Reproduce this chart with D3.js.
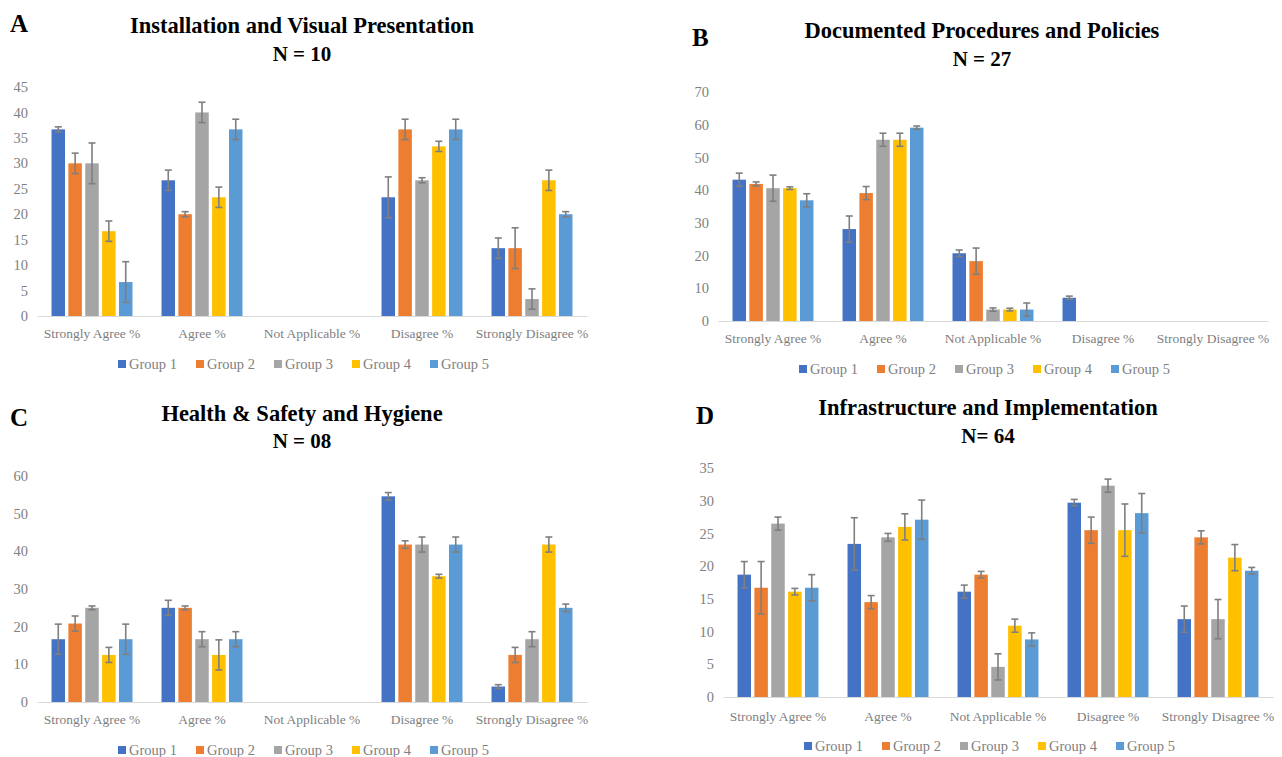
<!DOCTYPE html>
<html>
<head>
<meta charset="utf-8">
<script src="https://cdn.jsdelivr.net/npm/d3@7"></script>
<style>
  html, body { margin: 0; padding: 0; background: #fff; }
  svg { display: block; }
</style>
</head>
<body>
<svg id="chart" width="1282" height="757"></svg>
<script>
// Response categories shared by all four panels
const categories = ["Strongly Agree %", "Agree %", "Not Applicable %", "Disagree %", "Strongly Disagree %"];
const groups = ["Group 1", "Group 2", "Group 3", "Group 4", "Group 5"];
const groupColors = ["#4472C4", "#ED7D31", "#A5A5A5", "#FFC000", "#5B9BD5"];

// Panel A: Installation and Visual Presentation (rows = groups, columns = categories)
const valuesA = [
  [36.67, 26.67, 0, 23.33, 13.33],
  [30, 20, 0, 36.67, 13.33],
  [30, 40, 0, 26.67, 3.33],
  [16.67, 23.33, 0, 33.33, 26.67],
  [6.67, 36.67, 0, 36.67, 20]
];
const errorsA = [
  [0.5, 2, 0, 4, 2],
  [2, 0.5, 0, 2, 4],
  [4, 2, 0, 0.5, 2],
  [2, 2, 0, 1, 2],
  [4, 2, 0, 2, 0.5]
];
const ticksA = [0, 5, 10, 15, 20, 25, 30, 35, 40, 45];

// Panel B: Documented Procedures and Policies
const valuesB = [
  [43.2, 28.1, 20.7, 7.1, 0],
  [41.9, 39.1, 18.3, 0, 0],
  [40.6, 55.4, 3.5, 0, 0],
  [40.6, 55.4, 3.5, 0, 0],
  [36.9, 59.1, 3.5, 0, 0]
];
const errorsB = [
  [2, 4, 1, 0.5, 0],
  [0.6, 2, 4, 0, 0],
  [4, 2, 0.5, 0, 0],
  [0.4, 2, 0.4, 0, 0],
  [2, 0.5, 2, 0, 0]
];
const ticksB = [0, 10, 20, 30, 40, 50, 60, 70];

// Panel C: Health & Safety and Hygiene
const valuesC = [
  [16.67, 25, 0, 54.6, 4.1],
  [20.83, 25, 0, 41.8, 12.5],
  [25, 16.67, 0, 41.8, 16.67],
  [12.5, 12.5, 0, 33.4, 41.8],
  [16.67, 16.67, 0, 41.8, 25]
];
const errorsC = [
  [4, 2, 0, 1, 0.5],
  [2, 0.5, 0, 1, 2],
  [0.5, 2, 0, 2, 2],
  [2, 4, 0, 0.5, 2],
  [4, 2, 0, 2, 1]
];
const ticksC = [0, 10, 20, 30, 40, 50, 60];

// Panel D: Infrastructure and Implementation
const valuesD = [
  [18.7, 23.4, 16.1, 29.7, 11.9],
  [16.7, 14.5, 18.7, 25.5, 24.4],
  [26.5, 24.4, 4.6, 32.3, 11.9],
  [16.1, 26, 10.9, 25.5, 21.3],
  [16.7, 27.1, 8.8, 28.1, 19.3]
];
const errorsD = [
  [2, 4, 1, 0.5, 2],
  [4, 1, 0.5, 2, 1],
  [1, 0.6, 2, 1, 3],
  [0.5, 2, 1, 4, 2],
  [2, 3, 1, 3, 0.5]
];
const ticksD = [0, 5, 10, 15, 20, 25, 30, 35];

const panels = [
  { letter: "A", title: "Installation and Visual Presentation", n: "N = 10",
    values: valuesA, errors: errorsA, ticks: ticksA,
    left: 37, right: 587, top: 87, base: 316,
    letterX: 10, letterY: 32, titleX: 302, titleY: 33, nY: 61, catY: 338, legendY: 364 },
  { letter: "B", title: "Documented Procedures and Policies", n: "N = 27",
    values: valuesB, errors: errorsB, ticks: ticksB,
    left: 718, right: 1268, top: 92, base: 321,
    letterX: 692, letterY: 46, titleX: 982, titleY: 38, nY: 66, catY: 343, legendY: 369 },
  { letter: "C", title: "Health & Safety and Hygiene", n: "N = 08",
    values: valuesC, errors: errorsC, ticks: ticksC,
    left: 37, right: 587, top: 476, base: 702,
    letterX: 10, letterY: 426, titleX: 302, titleY: 421, nY: 448, catY: 724, legendY: 750 },
  { letter: "D", title: "Infrastructure and Implementation", n: "N= 64",
    values: valuesD, errors: errorsD, ticks: ticksD,
    left: 723, right: 1273, top: 468, base: 697,
    letterX: 696, letterY: 424, titleX: 988, titleY: 415, nY: 443, catY: 721, legendY: 746 }
];

const svg = d3.select("#chart");
const serif = "'Liberation Serif', 'DejaVu Serif', serif";

panels.forEach(p => {
  const g = svg.append("g");

  const x0 = d3.scaleBand().domain(categories).range([p.left, p.right]).padding(0);
  const x1 = d3.scaleBand().domain(groups)
    .range([x0.bandwidth() * 0.132, x0.bandwidth() * 0.868]).paddingInner(0.2);
  const yMax = p.ticks[p.ticks.length - 1];
  const y = d3.scaleLinear().domain([0, yMax]).range([p.base, p.top]);

  // Panel letter and titles
  g.append("text").attr("x", p.letterX).attr("y", p.letterY)
    .attr("font-family", serif).attr("font-weight", "bold").attr("font-size", 25)
    .attr("fill", "#000").text(p.letter);
  g.append("text").attr("x", p.titleX).attr("y", p.titleY).attr("text-anchor", "middle")
    .attr("font-family", serif).attr("font-weight", "bold").attr("font-size", 22.5)
    .attr("fill", "#000").text(p.title);
  g.append("text").attr("x", p.titleX).attr("y", p.nY).attr("text-anchor", "middle")
    .attr("font-family", serif).attr("font-weight", "bold").attr("font-size", 21)
    .attr("fill", "#000").text(p.n);

  // Value axis: labels only, no line
  const yAxis = g.append("g").attr("transform", `translate(${p.left - 4},0)`)
    .call(d3.axisLeft(y).tickValues(p.ticks).tickSize(0).tickPadding(5).tickFormat(d3.format("d")));
  yAxis.select(".domain").remove();
  yAxis.selectAll("text").attr("font-family", serif).attr("font-size", 14.5).attr("fill", "#808080");

  // Bars
  groups.forEach((grp, gi) => {
    g.append("g").selectAll("rect")
      .data(categories.map((c, ci) => ({ c, v: p.values[gi][ci] })))
      .join("rect")
      .attr("x", d => x0(d.c) + x1(grp))
      .attr("y", d => y(d.v))
      .attr("width", x1.bandwidth())
      .attr("height", d => y(0) - y(d.v))
      .attr("fill", groupColors[gi]);
  });

  // Category axis baseline and labels
  const xAxis = g.append("g").attr("transform", `translate(0,${p.base})`)
    .call(d3.axisBottom(x0).tickSize(0).tickPadding(0));
  xAxis.select(".domain").attr("stroke", "#d9d9d9").attr("stroke-width", 1.2);
  xAxis.selectAll("text").attr("font-family", serif).attr("font-size", 13.5)
    .attr("fill", "#808080").attr("dy", null).attr("y", p.catY - p.base);

  // Error bars
  groups.forEach((grp, gi) => {
    const eg = g.append("g").attr("stroke", "#7f7f7f").attr("stroke-width", 1.6).attr("fill", "none");
    categories.forEach((c, ci) => {
      const v = p.values[gi][ci], e = p.errors[gi][ci];
      if (!(v > 0 && e > 0)) return;
      const cx = x0(c) + x1(grp) + x1.bandwidth() / 2;
      eg.append("line").attr("x1", cx).attr("x2", cx).attr("y1", y(v - e)).attr("y2", y(v + e));
      eg.append("line").attr("x1", cx - 3.5).attr("x2", cx + 3.5).attr("y1", y(v + e)).attr("y2", y(v + e));
      eg.append("line").attr("x1", cx - 3.5).attr("x2", cx + 3.5).attr("y1", y(v - e)).attr("y2", y(v - e));
    });
  });

  // Legend
  const leg = g.append("g").attr("transform", `translate(${p.left + 81},${p.legendY})`);
  groups.forEach((grp, gi) => {
    const item = leg.append("g").attr("transform", `translate(${gi * 78},0)`);
    item.append("rect").attr("x", 0).attr("y", -4).attr("width", 8).attr("height", 8).attr("fill", groupColors[gi]);
    item.append("text").attr("x", 11).attr("y", 5).attr("font-family", serif).attr("font-size", 14.5)
      .attr("fill", "#808080").text(grp);
  });
});
</script>
</body>
</html>
